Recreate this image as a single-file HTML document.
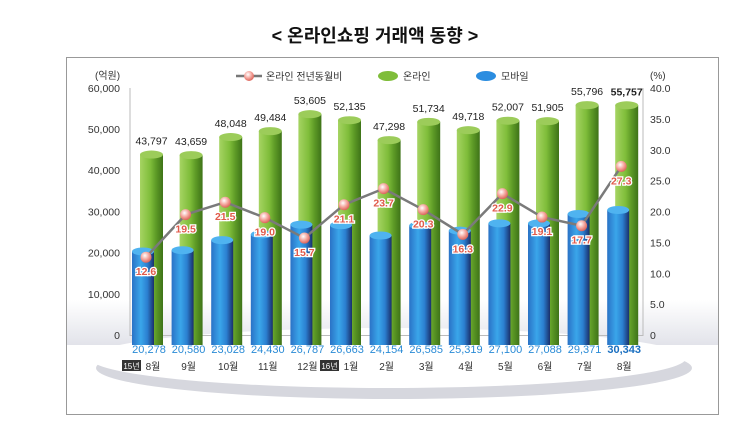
<!DOCTYPE html>
<html><head><meta charset="utf-8">
<style>
body{margin:0;background:#fff;width:750px;height:435px;overflow:hidden;font-family:"Liberation Sans","Noto Sans CJK KR",sans-serif}
</style></head><body>
<svg id="s" width="750" height="435" xmlns="http://www.w3.org/2000/svg" font-family="Liberation Sans, Noto Sans CJK KR, sans-serif">
<defs>
<linearGradient id="g" x1="0" x2="1"><stop offset="0" stop-color="#a6d463"/><stop offset="0.45" stop-color="#7fbd3a"/><stop offset="0.7" stop-color="#5d9a26"/><stop offset="1" stop-color="#3e7318"/></linearGradient>
<linearGradient id="b" x1="0" x2="1"><stop offset="0" stop-color="#2a72c6"/><stop offset="0.4" stop-color="#3aa6ea"/><stop offset="0.7" stop-color="#2b7fd0"/><stop offset="1" stop-color="#1a2f6a"/></linearGradient>
<linearGradient id="band" x1="0" y1="0" x2="0" y2="1"><stop offset="0" stop-color="#fff"/><stop offset="1" stop-color="#e2e3ea"/></linearGradient>
<radialGradient id="dot" cx="0.4" cy="0.35" r="0.7"><stop offset="0" stop-color="#fff"/><stop offset="0.5" stop-color="#f5a8a0"/><stop offset="1" stop-color="#d85a50"/></radialGradient>
</defs>
<text x="375" y="42" text-anchor="middle" font-size="18" font-weight="bold" fill="#111">&lt; 온라인쇼핑 거래액 동향 &gt;</text>
<rect x="66.5" y="57.5" width="652" height="357" fill="#fff" stroke="#999"/>
<rect x="67" y="300" width="651" height="45" fill="url(#band)"/>
<ellipse cx="394" cy="368" rx="298" ry="31" fill="#d6d7de"/>
<ellipse cx="388" cy="358" rx="298" ry="30" fill="#fff"/>
<line x1="130" y1="88" x2="130" y2="336" stroke="#bbb"/>
<line x1="643" y1="88" x2="643" y2="336" stroke="#bbb"/>
<line x1="130" y1="335.5" x2="643" y2="335.5" stroke="#bbb"/>
<g id="content"></g>
</svg>
<script>
var G=[43797,43659,48048,49484,53605,52135,47298,51734,49718,52007,51905,55796,55757];
var B=[20278,20580,23028,24430,26787,26663,24154,26585,25319,27100,27088,29371,30343];
var P=[12.6,19.5,21.5,19.0,15.7,21.1,23.7,20.3,16.3,22.9,19.1,17.7,27.3];
var M=['8월','9월','10월','11월','12월','1월','2월','3월','4월','5월','6월','7월','8월'];
var h='';
function y(v){return 335-v*0.00412;}
function fmt(n){return n.toLocaleString('en-US');}
for(var i=0;i<=6;i++){var yy=335-i*41.2;h+='<text x="120" y="'+(yy+4)+'" text-anchor="end" font-size="10.5" fill="#333">'+(i?fmt(i*10000):'0')+'</text>';}
for(var i=0;i<=8;i++){h+='<text x="650" y="'+(335-i*5*6.175+4)+'" font-size="10.5" fill="#333">'+(i==0?'0':(i*5).toFixed(1))+'</text>';}
h+='<text x="95" y="79" font-size="10" fill="#333">(억원)</text><text x="650" y="79" font-size="10" fill="#333">(%)</text>';
h+='<line x1="236" y1="76" x2="262" y2="76" stroke="#777" stroke-width="2.5"/><circle cx="249" cy="76" r="5" fill="url(#dot)"/><text x="266" y="80" font-size="10" fill="#333">온라인 전년동월비</text>';
h+='<ellipse cx="388" cy="76" rx="10" ry="5" fill="#7fbd3a"/><text x="403" y="80" font-size="10" fill="#333">온라인</text>';
h+='<ellipse cx="486" cy="76" rx="10" ry="5" fill="#2b8de0"/><text x="501" y="80" font-size="10" fill="#333">모바일</text>';
var pts=[];
for(var i=0;i<13;i++){
 var gx=140+i*39.6,bx=132+i*39.6,gy=y(G[i]),by=y(B[i]);
 h+='<rect x="'+gx+'" y="'+gy+'" width="23" height="'+(345-gy)+'" fill="url(#g)"/>';
 h+='<ellipse cx="'+(gx+11.5)+'" cy="'+gy+'" rx="11.5" ry="4" fill="#9ccc5a"/>';
 h+='<text x="'+(gx+11.5)+'" y="'+(gy-10)+'" text-anchor="middle" font-size="10.5" fill="#222"'+(i==12?' font-weight="bold"':'')+'>'+fmt(G[i])+'</text>';
 h+='<rect x="'+bx+'" y="'+by+'" width="22" height="'+(345-by)+'" fill="url(#b)"/>';
 h+='<ellipse cx="'+(bx+11)+'" cy="'+by+'" rx="11" ry="4" fill="#4fb3f0"/>';
 h+='<text x="'+(bx+17)+'" y="353" text-anchor="middle" font-size="11" '+(i==12?'font-weight="bold" fill="#1a6fc0"':'fill="#2a8bd6"')+'>'+fmt(B[i])+'</text>';
 var lx=bx+17;
 if(i==0||i==5){h+='<rect x="'+(lx-27)+'" y="360" width="19" height="11" fill="#333"/><text x="'+(lx-17.5)+'" y="369" text-anchor="middle" font-size="8" fill="#fff">'+(i?'16년':'15년')+'</text><text x="'+(lx+4)+'" y="370" text-anchor="middle" font-size="10" fill="#333">'+M[i]+'</text>';}
 else h+='<text x="'+lx+'" y="370" text-anchor="middle" font-size="10" fill="#333">'+M[i]+'</text>';
 pts.push([146+i*39.6,335-P[i]*6.175]);
}
h+='<polyline points="'+pts.map(function(p){return p.join(',')}).join(' ')+'" fill="none" stroke="#7a7a7a" stroke-width="2.5"/>';
for(var i=0;i<13;i++){var p=pts[i];
 h+='<circle cx="'+p[0]+'" cy="'+p[1]+'" r="5.5" fill="url(#dot)"/>';
 h+='<text x="'+p[0]+'" y="'+(p[1]+18)+'" text-anchor="middle" font-size="10.5" font-weight="bold" fill="#e05a4a" stroke="#fff" stroke-width="2.5" paint-order="stroke">'+P[i].toFixed(1)+'</text>';}
document.getElementById('content').innerHTML=h;
</script>
</body></html>
